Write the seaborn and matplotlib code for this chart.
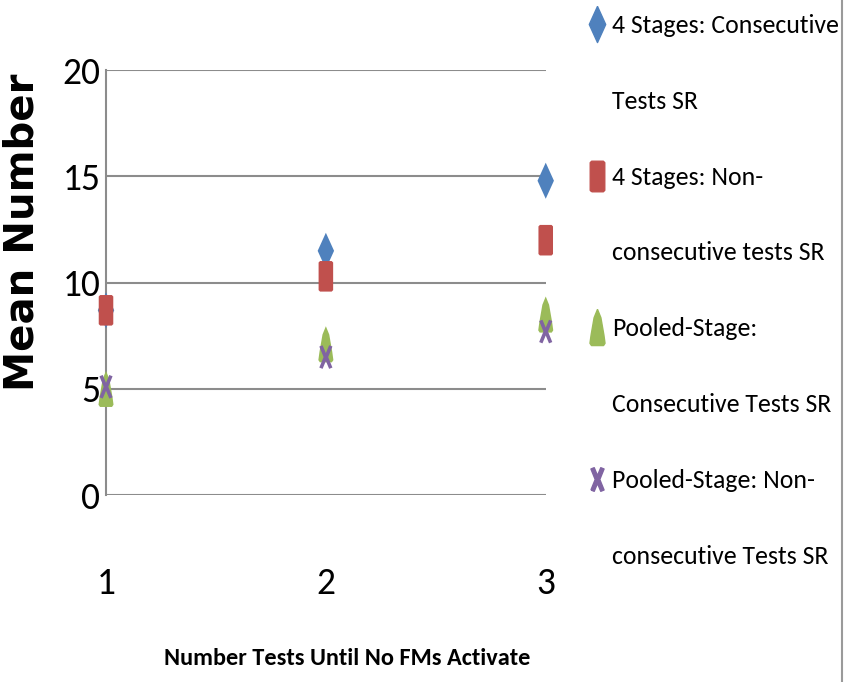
import matplotlib
matplotlib.use('Agg')
import matplotlib.pyplot as plt
from matplotlib.lines import Line2D
import matplotlib.font_manager as fm
import seaborn as sns
import pandas as pd

# valores
tests = [1, 2, 3]
stages4_consec = [8.7, 11.5, 14.8]
stages4_nonconsec = [8.7, 10.3, 12.0]
pooled_consec = [5.0, 7.1, 8.5]
pooled_nonconsec = [5.1, 6.5, 7.7]

series_names = ['4 Stages: Consecutive\nTests SR',
                '4 Stages: Non-\nconsecutive tests SR',
                'Pooled-Stage:\nConsecutive Tests SR',
                'Pooled-Stage: Non-\nconsecutive Tests SR']
colors = ['#4F81BD', '#C0504D', '#9BBB59', '#8064A2']

sns.set_style('white')
names = set(f.name for f in fm.fontManager.ttflist)
font = 'Liberation Sans'
for cand in ['Carlito', 'Liberation Sans Narrow', 'Roboto Condensed', 'Open Sans Condensed']:
    if cand in names:
        font = cand
        break
plt.rcParams['font.family'] = [font, 'DejaVu Sans']
plt.rcParams['text.color'] = 'black'
plt.rcParams['axes.labelcolor'] = 'black'
plt.rcParams['xtick.color'] = 'black'
plt.rcParams['ytick.color'] = 'black'

df = pd.DataFrame({
    'tests': tests * 4,
    'mean': stages4_consec + stages4_nonconsec + pooled_consec + pooled_nonconsec,
    'serie': [s for s in series_names for _ in tests],
})

# marcadores esticados na vertical (como no original)
diamond = [(0, 2.2), (1, 0), (0, -2.2), (-1, 0), (0, 2.2)]
rect = [(-0.8, -2.1), (0.8, -2.1), (1, -1.9), (1, 1.9), (0.8, 2.1), (-0.8, 2.1), (-1, 1.9), (-1, -1.9), (-0.8, -2.1)]
tri = [(0, 2.4), (0.45, 1.3), (0.85, -1.0), (1, -2.1), (0.8, -2.4), (-0.8, -2.4), (-1, -2.1),
       (-0.85, -1.0), (-0.45, 1.3), (0, 2.4)]
cross = [(-1, -1.6), (-0.35, 0), (-1, 1.6), (-0.5, 1.8), (0, 0.6), (0.5, 1.8), (1, 1.6),
         (0.35, 0), (1, -1.6), (0.5, -1.8), (0, -0.6), (-0.5, -1.8), (-1, -1.6)]
markers = dict(zip(series_names, [diamond, rect, tri, cross]))
msizes = [26, 22, 26, 17]

fig = plt.figure(figsize=(8.44, 6.82), dpi=100)
ax = fig.add_axes([0.1256, 0.274, 0.521, 0.623])

for name, col, ms in zip(series_names, colors, msizes):
    sub = df[df['serie'] == name]
    sns.scatterplot(data=sub, x='tests', y='mean', marker=markers[name], color=col,
                    s=ms ** 2, edgecolor='none', ax=ax, clip_on=False, zorder=3, legend=False)

ax.set_xlim(1, 3)
ax.set_ylim(0, 20)
ax.set_yticks([0, 5, 10, 15, 20])
ax.set_xticks(tests)
ax.grid(axis='y', color='#8c8c8c', linewidth=1.5)
ax.grid(axis='x', visible=False)
for side in ['top', 'right', 'bottom']:
    ax.spines[side].set_visible(False)
ax.spines['left'].set_color('#8c8c8c')
ax.spines['left'].set_linewidth(1.5)
ax.tick_params(axis='y', length=0, labelsize=27, pad=4)
ax.tick_params(axis='x', length=0, labelsize=27, pad=52)

ax.set_ylabel('Mean Number', fontsize=29, fontweight='bold', family='DejaVu Sans')
ax.yaxis.set_label_coords(-0.145, 0.619)
ax.set_xlabel('Number Tests Until No FMs Activate', fontsize=17.5, fontweight='bold')
ax.xaxis.set_label_coords(0.548, -0.36)

# legenda: uma linha por fila, marcador na primeira linha de cada serie
leg_handles = []
leg_labels = []
for n, c, ms in zip(series_names, colors, msizes):
    first, second = n.split('\n')
    leg_handles.append(Line2D([], [], linestyle='none', marker=markers[n], color=c, markersize=ms))
    leg_labels.append(first)
    leg_handles.append(Line2D([], [], linestyle='none', marker=None))
    leg_labels.append(second)
leg = fig.legend(leg_handles, leg_labels, loc='upper left', bbox_to_anchor=(0.698, 0.98),
                 frameon=False, fontsize=18.5, handlelength=0.6, handletextpad=0.3,
                 labelspacing=2.06, borderpad=0, borderaxespad=0)

fig.add_artist(Line2D([0.998, 0.998], [0, 1], color='#9a9a9a', linewidth=1.5))

plt.savefig('out.png', dpi=100)
plt.close()
